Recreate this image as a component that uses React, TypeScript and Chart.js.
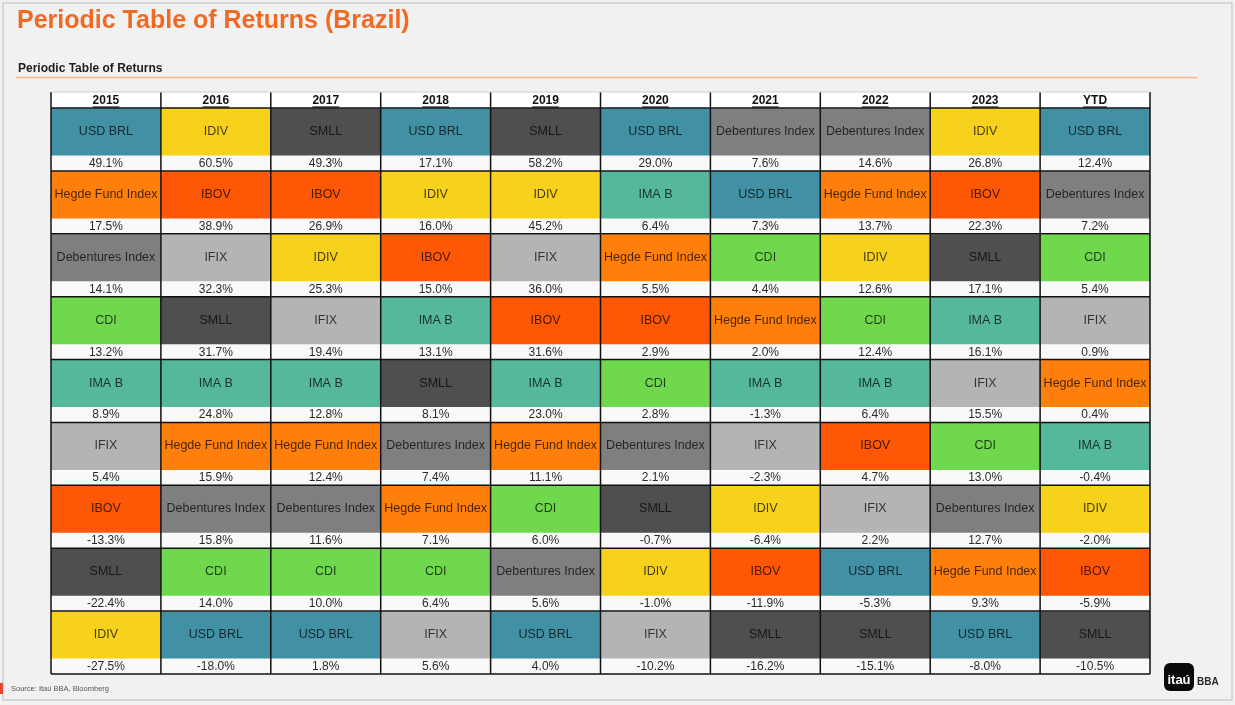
import React, { useEffect, useRef } from "react";
import { Chart, registerables } from "chart.js";

Chart.register(...registerables);

// ---------- DATA ----------
const years = ["2015", "2016", "2017", "2018", "2019", "2020", "2021", "2022", "2023", "YTD"];

const assets2015 = ["USD BRL", "Hegde Fund Index", "Debentures Index", "CDI", "IMA B", "IFIX", "IBOV", "SMLL", "IDIV"];
const returns2015 = [49.1, 17.5, 14.1, 13.2, 8.9, 5.4, -13.3, -22.4, -27.5];

const assets2016 = ["IDIV", "IBOV", "IFIX", "SMLL", "IMA B", "Hegde Fund Index", "Debentures Index", "CDI", "USD BRL"];
const returns2016 = [60.5, 38.9, 32.3, 31.7, 24.8, 15.9, 15.8, 14.0, -18.0];

const assets2017 = ["SMLL", "IBOV", "IDIV", "IFIX", "IMA B", "Hegde Fund Index", "Debentures Index", "CDI", "USD BRL"];
const returns2017 = [49.3, 26.9, 25.3, 19.4, 12.8, 12.4, 11.6, 10.0, 1.8];

const assets2018 = ["USD BRL", "IDIV", "IBOV", "IMA B", "SMLL", "Debentures Index", "Hegde Fund Index", "CDI", "IFIX"];
const returns2018 = [17.1, 16.0, 15.0, 13.1, 8.1, 7.4, 7.1, 6.4, 5.6];

const assets2019 = ["SMLL", "IDIV", "IFIX", "IBOV", "IMA B", "Hegde Fund Index", "CDI", "Debentures Index", "USD BRL"];
const returns2019 = [58.2, 45.2, 36.0, 31.6, 23.0, 11.1, 6.0, 5.6, 4.0];

const assets2020 = ["USD BRL", "IMA B", "Hegde Fund Index", "IBOV", "CDI", "Debentures Index", "SMLL", "IDIV", "IFIX"];
const returns2020 = [29.0, 6.4, 5.5, 2.9, 2.8, 2.1, -0.7, -1.0, -10.2];

const assets2021 = ["Debentures Index", "USD BRL", "CDI", "Hegde Fund Index", "IMA B", "IFIX", "IDIV", "IBOV", "SMLL"];
const returns2021 = [7.6, 7.3, 4.4, 2.0, -1.3, -2.3, -6.4, -11.9, -16.2];

const assets2022 = ["Debentures Index", "Hegde Fund Index", "IDIV", "CDI", "IMA B", "IBOV", "IFIX", "USD BRL", "SMLL"];
const returns2022 = [14.6, 13.7, 12.6, 12.4, 6.4, 4.7, 2.2, -5.3, -15.1];

const assets2023 = ["IDIV", "IBOV", "SMLL", "IMA B", "IFIX", "CDI", "Debentures Index", "Hegde Fund Index", "USD BRL"];
const returns2023 = [26.8, 22.3, 17.1, 16.1, 15.5, 13.0, 12.7, 9.3, -8.0];

const assetsYTD = ["USD BRL", "Debentures Index", "CDI", "IFIX", "Hegde Fund Index", "IMA B", "IDIV", "IBOV", "SMLL"];
const returnsYTD = [12.4, 7.2, 5.4, 0.9, 0.4, -0.4, -2.0, -5.9, -10.5];

const assetsByYear = [assets2015, assets2016, assets2017, assets2018, assets2019, assets2020, assets2021, assets2022, assets2023, assetsYTD];
const returnsByYear = [returns2015, returns2016, returns2017, returns2018, returns2019, returns2020, returns2021, returns2022, returns2023, returnsYTD];

const assetColors: Record<string, string> = {
  "USD BRL": "#4290a3",
  "IDIV": "#f6d21c",
  "SMLL": "#4f4f4f",
  "Hegde Fund Index": "#fe7f0c",
  "IBOV": "#fe5705",
  "Debentures Index": "#7f7f7f",
  "IFIX": "#b4b4b4",
  "CDI": "#6fd84c",
  "IMA B": "#55b79b",
};

const title = "Periodic Table of Returns (Brazil)";
const subtitle = "Periodic Table of Returns";
const source = "Source: Itaú BBA, Bloomberg";

// ---------- LAYOUT CONSTANTS ----------
const W = 1235;
const H = 705;
const NROWS = 9;
const CELL = 0.75; // colored part of a row (in row units)
const HEAD = 0.255; // header height (in row units)
const FONT = "'Liberation Sans', Arial, sans-serif";

const fmt = (v: number) => v.toFixed(1) + "%";

const decorPlugin = {
  id: "decor",
  beforeDraw(chart: any) {
    const ctx = chart.ctx;
    ctx.save();
    ctx.fillStyle = "#f1f1f1";
    ctx.fillRect(0, 0, W, H);
    // frame
    ctx.strokeStyle = "#d6d6d6";
    ctx.lineWidth = 2;
    ctx.strokeRect(3, 3, 1229, 697);
    // title
    ctx.fillStyle = "#f26a22";
    ctx.font = `bold 25px ${FONT}`;
    ctx.textBaseline = "middle";
    ctx.textAlign = "left";
    ctx.fillText(title, 17, 21);
    // subtitle
    ctx.fillStyle = "#1e1e1e";
    ctx.font = `bold 12px ${FONT}`;
    ctx.fillText(subtitle, 18, 69);
    // orange rule
    ctx.strokeStyle = "#f3b48a";
    ctx.lineWidth = 1.5;
    ctx.beginPath();
    ctx.moveTo(16, 77.5);
    ctx.lineTo(1197, 77.5);
    ctx.stroke();
    // source
    ctx.fillStyle = "#555";
    ctx.font = `7.5px ${FONT}`;
    ctx.fillText(source, 11, 689);
    ctx.fillStyle = "#e8462a";
    ctx.fillRect(0, 683, 3, 11);
    // logo
    ctx.fillStyle = "#0a0a0a";
    const lx = 1164, ly = 663, lw = 30, lh = 28, r = 6;
    ctx.beginPath();
    ctx.moveTo(lx + r, ly);
    ctx.arcTo(lx + lw, ly, lx + lw, ly + lh, r);
    ctx.arcTo(lx + lw, ly + lh, lx, ly + lh, r);
    ctx.arcTo(lx, ly + lh, lx, ly, r);
    ctx.arcTo(lx, ly, lx + lw, ly, r);
    ctx.closePath();
    ctx.fill();
    ctx.fillStyle = "#ffffff";
    ctx.font = `bold 13px ${FONT}`;
    ctx.textAlign = "center";
    ctx.fillText("itaú", lx + lw / 2, ly + lh / 2 + 3);
    ctx.fillStyle = "#2a2a2a";
    ctx.font = `bold 10px ${FONT}`;
    ctx.textAlign = "left";
    ctx.fillText("BBA", 1197, 682);
    ctx.restore();
  },
  afterDatasetsDraw(chart: any) {
    const ctx = chart.ctx;
    const xs = chart.scales.x;
    const ys = chart.scales.y;
    const colW = (xs.right - xs.left) / years.length;
    ctx.save();
    ctx.textAlign = "center";
    ctx.textBaseline = "middle";
    // header labels
    const headMid = ys.getPixelForValue(-HEAD / 2);
    ctx.font = `bold 12px ${FONT}`;
    ctx.fillStyle = "#111";
    ctx.strokeStyle = "#111";
    ctx.lineWidth = 1.2;
    years.forEach((yr, i) => {
      const cx = xs.getPixelForValue(i);
      ctx.fillText(yr, cx, headMid + 1);
      const tw = ctx.measureText(yr).width;
      ctx.beginPath();
      ctx.moveTo(cx - tw / 2, headMid + 7);
      ctx.lineTo(cx + tw / 2, headMid + 7);
      ctx.stroke();
    });
    // cell texts
    assetsByYear.forEach((list, i) => {
      const cx = xs.getPixelForValue(i);
      list.forEach((name, r) => {
        ctx.font = `12.5px ${FONT}`;
        ctx.fillStyle = "rgba(0,0,0,0.72)";
        ctx.fillText(name, cx, ys.getPixelForValue(r + CELL / 2));
        ctx.font = `12px ${FONT}`;
        ctx.fillStyle = "#2a2a2a";
        ctx.fillText(fmt(returnsByYear[i][r]), cx, ys.getPixelForValue(r + CELL + (1 - CELL) / 2) + 0.5);
      });
    });
    // grid lines
    ctx.strokeStyle = "#111";
    ctx.lineWidth = 1.5;
    for (let i = 0; i <= years.length; i++) {
      const x = xs.left + i * colW;
      ctx.beginPath();
      ctx.moveTo(x, ys.getPixelForValue(-HEAD));
      ctx.lineTo(x, ys.getPixelForValue(NROWS));
      ctx.stroke();
    }
    for (let r = 0; r <= NROWS; r++) {
      const y = ys.getPixelForValue(r);
      ctx.beginPath();
      ctx.moveTo(xs.left, y);
      ctx.lineTo(xs.right, y);
      ctx.stroke();
    }
    ctx.lineWidth = 1;
    ctx.strokeStyle = "#cfcfcf";
    const yTop = ys.getPixelForValue(-HEAD);
    ctx.beginPath();
    ctx.moveTo(xs.left, yTop);
    ctx.lineTo(xs.right, yTop);
    ctx.stroke();
    ctx.restore();
  },
};

export default function App() {
  const ref = useRef<HTMLCanvasElement | null>(null);
  useEffect(() => {
    if (!ref.current) return;
    const datasets: any[] = [];
    // header band
    datasets.push({
      data: years.map(() => [-HEAD, 0]),
      backgroundColor: "#ffffff",
      grouped: false,
    });
    for (let r = 0; r < NROWS; r++) {
      datasets.push({
        data: years.map(() => [r, r + CELL]),
        backgroundColor: assetsByYear.map((list) => assetColors[list[r]]),
        grouped: false,
      });
      datasets.push({
        data: years.map(() => [r + CELL, r + 1]),
        backgroundColor: "#f9f9f9",
        grouped: false,
      });
    }
    const chart = new Chart(ref.current, {
      type: "bar",
      data: { labels: years, datasets },
      options: {
        responsive: false,
        animation: false,
        layout: { padding: { left: 51, right: 85, top: 92, bottom: 31 } },
        datasets: { bar: { barPercentage: 1, categoryPercentage: 1, borderWidth: 0 } },
        scales: {
          x: { display: false, offset: true },
          y: { display: false, reverse: true, min: -HEAD, max: NROWS },
        },
        plugins: { legend: { display: false }, tooltip: { enabled: false }, title: { display: false } },
      },
      plugins: [decorPlugin],
    } as any);
    return () => chart.destroy();
  }, []);
  return (
    <div style={{ position: "fixed", left: 0, top: 0, width: W, height: H, background: "#f1f1f1" }}>
      <canvas ref={ref} width={W} height={H} style={{ display: "block", width: W, height: H }} />
    </div>
  );
}
